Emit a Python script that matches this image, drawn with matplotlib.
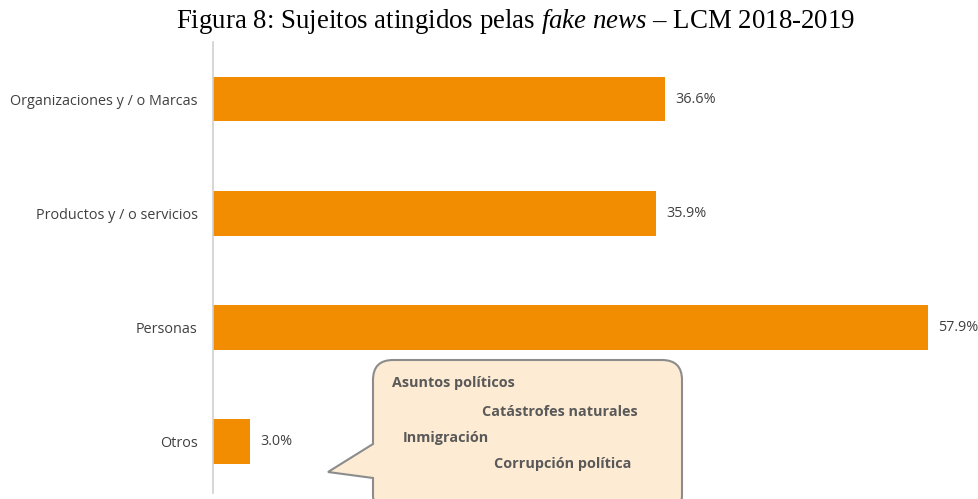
import matplotlib.pyplot as plt
from matplotlib.path import Path
from matplotlib.patches import PathPatch

plt.rcParams["mathtext.fontset"] = "custom"
plt.rcParams["mathtext.rm"] = "Liberation Serif"
plt.rcParams["mathtext.it"] = "Liberation Serif:italic"

categorias = ["Organizaciones y / o Marcas", "Productos y / o servicios", "Personas", "Otros"]
valores = [36.6, 35.9, 57.9, 3.0]
etiquetas = ["36.6%", "35.9%", "57.9%", "3.0%"]
otros_temas = ["Asuntos políticos", "Catástrofes naturales", "Inmigración", "Corrupción política"]

W, H = 979, 499
naranja = "#F28C00"
gris_txt = "#404040"
fs = 10.4

fig = plt.figure(figsize=(W / 100, H / 100), dpi=100)


def px(x, y):
    # píxeles (origen arriba a la izquierda) -> fracción de figura
    return x / W, 1 - y / H


# ejes: línea vertical en x=213 px, de y=42 a y=493 px
x0, y_top = px(213, 42)
_, y_bot = px(213, 493)
x1, _ = px(960, 0)
ax = fig.add_axes([x0, y_bot, x1 - x0, y_top - y_bot])

pos = list(range(len(categorias)))
ax.barh(pos, valores, height=0.39, color=naranja)
ax.set_xlim(0, 747 / 12.35)
ax.set_ylim(3.45, -0.5)

for p, v, t in zip(pos, valores, etiquetas):
    ax.text(v + 0.8, p, t, va="center", ha="left", fontsize=fs,
            family="Open Sans", color=gris_txt, clip_on=False)

ax.set_yticks(pos)
ax.set_yticklabels(categorias, fontsize=fs, family="Open Sans", color=gris_txt)
ax.tick_params(axis="y", length=0, pad=11)
ax.set_xticks([])
for lado in ["top", "right", "bottom"]:
    ax.spines[lado].set_visible(False)
ax.spines["left"].set_color("#d0d0d0")
ax.spines["left"].set_linewidth(1.2)

# globo de texto para "Otros"
L, T, R, B = 373, 360, 682, 515
r = 20
tip = (328, 472)
a1, a2 = 444, 478
verts = [
    (L + r, T), (R - r, T), (R, T), (R, T + r),
    (R, B - r), (R, B), (R - r, B),
    (L + r, B), (L, B), (L, B - r),
    (L, a2), tip, (L, a1),
    (L, T + r), (L, T), (L + r, T),
]
codes = [
    Path.MOVETO, Path.LINETO, Path.CURVE3, Path.CURVE3,
    Path.LINETO, Path.CURVE3, Path.CURVE3,
    Path.LINETO, Path.CURVE3, Path.CURVE3,
    Path.LINETO, Path.LINETO, Path.LINETO,
    Path.LINETO, Path.CURVE3, Path.CURVE3,
]
globo = Path([px(x, y) for x, y in verts], codes)
fig.patches.append(PathPatch(globo, transform=fig.transFigure, facecolor="#FDEBD3",
                             edgecolor="#8c8c8c", linewidth=1.5))

pos_temas = [(392, 383), (482, 412), (403, 438), (494, 464)]
for txt, (x, y) in zip(otros_temas, pos_temas):
    fx, fy = px(x, y)
    fig.text(fx, fy, txt, ha="left", va="center", fontsize=fs, family="Open Sans",
             fontweight="bold", color="#595959")

fx, fy = px(516, 22)
fig.text(fx, fy, "Figura 8: Sujeitos atingidos pelas $\\it{fake\\ news}$ – LCM 2018-2019",
         ha="center", va="center", fontsize=19.4, family="Liberation Serif", color="black")

fig.savefig("out.png", dpi=100)
